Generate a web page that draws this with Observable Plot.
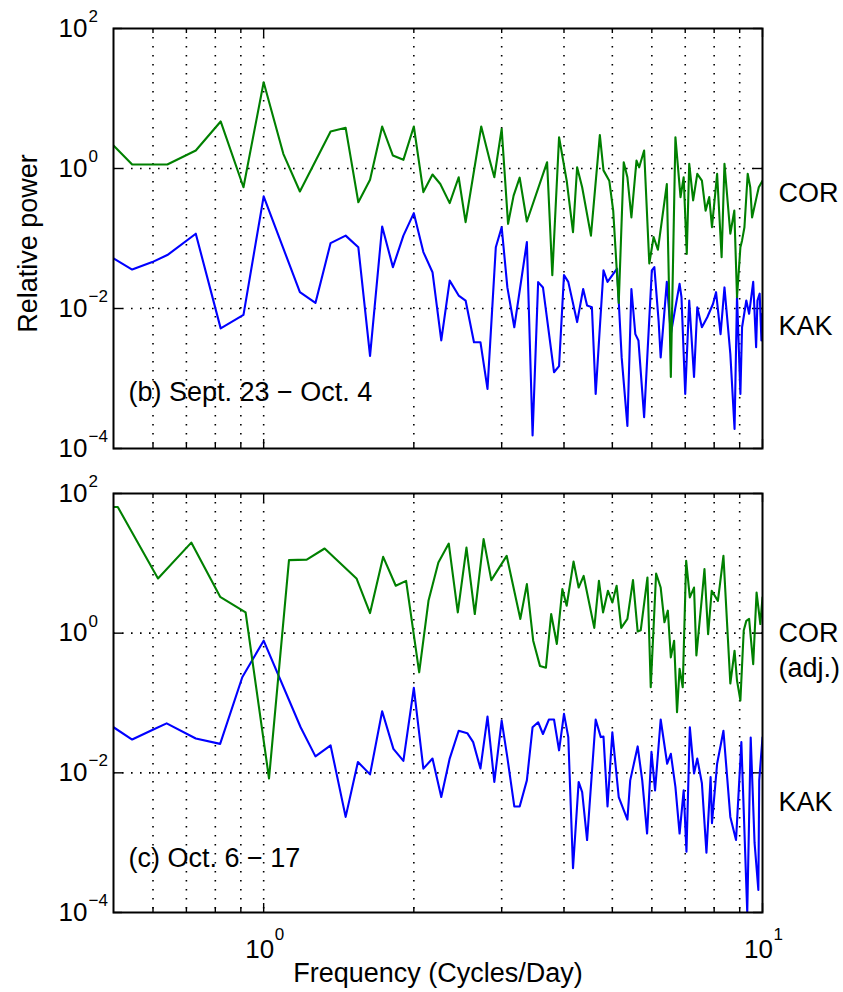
<!DOCTYPE html>
<html>
<head>
<meta charset="utf-8">
<script src="https://cdn.jsdelivr.net/npm/d3@7"></script>
<script src="https://cdn.jsdelivr.net/npm/@observablehq/plot@0.6"></script>
<style>
  html, body { margin: 0; padding: 0; background: #fff; }
  #chart { position: relative; width: 843px; height: 992px; background: #fff; }
  #chart svg { position: absolute; left: 0; overflow: visible; }
</style>
</head>
<body>
<div id="chart"></div>
<script>
// ---------- data (frequency in cycles/day, relative power) ----------
const corB = [[0.50,2.13],[0.545,1.14],[0.641,1.14],[0.731,1.81],[0.820,4.7],[0.911,0.54],[1.0,17.1],[1.095,1.62],[1.182,0.47],[1.362,3.38],[1.46,3.81],[1.548,0.33],[1.634,0.69],[1.728,3.98],[1.816,1.53],[1.906,1.33],[2.0,3.98],[2.09,0.46],[2.18,0.82],[2.26,0.60],[2.36,0.32],[2.46,0.75],[2.54,0.171],[2.73,3.98],[2.84,1.30],[2.90,0.75],[3.0,3.69],[3.09,0.162],[3.17,0.41],[3.26,0.74],[3.37,0.175],[3.70,1.23],[3.79,0.030],[3.91,2.80],[4.05,0.67],[4.17,0.123],[4.25,1.04],[4.35,0.54],[4.53,0.11],[4.72,3.0],[4.80,0.94],[4.93,0.67],[5.02,0.25],[5.15,0.012],[5.27,1.23],[5.36,0.75],[5.46,0.20],[5.59,1.30],[5.66,1.04],[5.79,1.81],[5.93,0.044],[6.05,0.105],[6.17,0.069],[6.43,0.60],[6.55,0.00105],[6.69,2.80],[6.85,0.39],[6.95,0.75],[7.05,0.06],[7.13,1.17],[7.26,0.35],[7.40,0.84],[7.56,0.67],[7.69,0.25],[7.82,0.39],[7.92,0.145],[8.11,0.84],[8.28,0.054],[8.39,1.17],[8.62,0.117],[8.78,0.25],[8.89,0.0145],[9.03,0.075],[9.10,0.094],[9.20,0.145],[9.34,0.84],[9.45,0.54],[9.53,0.20],[9.73,0.39],[9.83,0.54],[10.0,0.67]];

const kakB = [[0.50,0.052],[0.545,0.036],[0.598,0.046],[0.641,0.058],[0.731,0.117],[0.820,0.0052],[0.911,0.0081],[1.0,0.40],[1.182,0.0171],[1.27,0.012],[1.362,0.086],[1.46,0.110],[1.548,0.075],[1.634,0.0021],[1.728,0.148],[1.816,0.039],[1.906,0.11],[2.0,0.23],[2.09,0.064],[2.18,0.033],[2.27,0.0035],[2.36,0.025],[2.46,0.0153],[2.54,0.013],[2.64,0.0033],[2.72,0.0033],[2.81,0.00071],[2.92,0.075],[3.0,0.145],[3.08,0.020],[3.18,0.0054],[3.37,0.089],[3.46,0.000153],[3.55,0.0238],[3.63,0.020],[3.82,0.00123],[3.91,0.0015],[4.0,0.030],[4.08,0.024],[4.25,0.0064],[4.37,0.019],[4.45,0.011],[4.55,0.0104],[4.63,0.0006],[4.72,0.0054],[4.80,0.035],[4.89,0.024],[5.11,0.037],[5.22,0.002],[5.36,0.00021],[5.46,0.019],[5.56,0.0043],[5.64,0.0035],[5.79,0.00028],[6.0,0.035],[6.07,0.039],[6.19,0.0067],[6.25,0.002],[6.43,0.024],[6.55,0.0043],[6.69,0.0104],[6.82,0.0225],[6.88,0.0145],[7.0,0.0006],[7.13,0.013],[7.29,0.00105],[7.40,0.0104],[7.56,0.0054],[7.75,0.0075],[7.96,0.0117],[8.07,0.0171],[8.24,0.0043],[8.39,0.020],[8.62,0.00225],[8.79,0.00019],[8.89,0.0153],[9.03,0.0006],[9.10,0.0054],[9.28,0.013],[9.40,0.0084],[9.58,0.024],[9.71,0.0028],[9.77,0.013],[9.87,0.0163],[9.95,0.0035],[10.0,0.0084]];

const corC = [[0.50,64],[0.51,64],[0.614,6.07],[0.716,19.8],[0.818,3.32],[0.92,1.98],[1.025,0.0083],[1.124,11.1],[1.22,11.3],[1.325,16.3],[1.535,6.07],[1.634,1.94],[1.736,12.4],[1.84,4.77],[1.93,5.6],[2.05,0.275],[2.14,2.91],[2.24,10.3],[2.35,19.2],[2.45,1.98],[2.55,16.8],[2.65,1.88],[2.76,22.2],[2.86,5.75],[3.07,12.8],[3.27,1.6],[3.37,5.04],[3.47,0.78],[3.58,0.34],[3.68,0.32],[3.77,1.88],[3.87,0.70],[3.97,4.28],[4.05,2.47],[4.18,10.6],[4.28,4.5],[4.38,6.6],[4.60,1.19],[4.70,5.6],[4.79,1.98],[4.90,4.05],[5.0,2.75],[5.10,4.77],[5.21,1.19],[5.36,1.6],[5.50,5.75],[5.62,1.06],[5.70,1.1],[5.88,6.27],[5.97,0.168],[6.12,7.15],[6.25,4.5],[6.36,1.43],[6.46,2.1],[6.55,0.45],[6.65,0.78],[6.74,0.074],[6.82,0.31],[6.92,0.168],[7.03,10.9],[7.15,3.25],[7.29,4.5],[7.37,0.48],[7.56,3.25],[7.65,8.3],[7.78,0.97],[7.91,4.05],[8.14,2.9],[8.35,12.8],[8.62,0.19],[8.79,0.56],[8.89,0.21],[9.03,0.109],[9.17,1.09],[9.28,1.5],[9.40,1.6],[9.58,0.36],[9.73,3.83],[9.90,1.35],[10.0,3.25]];

const kakC = [[0.50,0.045],[0.545,0.030],[0.598,0.041],[0.639,0.051],[0.731,0.031],[0.818,0.026],[0.906,0.234],[1.0,0.78],[1.186,0.045],[1.27,0.0172],[1.362,0.0247],[1.46,0.00234],[1.545,0.0143],[1.634,0.0095],[1.728,0.076],[1.82,0.022],[1.906,0.0148],[2.0,0.165],[2.09,0.0115],[2.18,0.016],[2.27,0.0045],[2.36,0.016],[2.46,0.040],[2.56,0.037],[2.63,0.0275],[2.72,0.0115],[2.81,0.064],[2.90,0.0074],[3.0,0.056],[3.08,0.0165],[3.18,0.0033],[3.26,0.0033],[3.37,0.0078],[3.46,0.045],[3.55,0.053],[3.63,0.036],[3.73,0.058],[3.82,0.058],[3.91,0.021],[4.0,0.070],[4.08,0.0325],[4.17,0.00043],[4.28,0.0074],[4.35,0.0053],[4.45,0.00109],[4.63,0.058],[4.74,0.0325],[4.80,0.033],[4.89,0.0033],[5.0,0.038],[5.15,0.0045],[5.36,0.00214],[5.43,0.0078],[5.62,0.0239],[5.74,0.0078],[5.87,0.00135],[5.99,0.020],[6.09,0.0056],[6.25,0.058],[6.44,0.0135],[6.55,0.0187],[6.69,0.0063],[6.82,0.00135],[6.95,0.0056],[7.04,0.00074],[7.15,0.045],[7.29,0.0098],[7.40,0.016],[7.56,0.0071],[7.72,0.00072],[7.87,0.0087],[7.92,0.0019],[8.11,0.0135],[8.35,0.040],[8.62,0.00234],[8.85,0.00109],[9.07,0.0275],[9.32,0.0001],[9.47,0.032],[9.64,0.001],[9.81,0.00021],[9.85,0.0078],[10.0,0.032]];

// ---------- ticks and labels ----------
const xTicksMajor = [1, 10];
const xTickExp = ["0", "1"];
const xTicksMinor = [0.6, 0.7, 0.8, 0.9, 2, 3, 4, 5, 6, 7, 8, 9];
const xGrid = [0.6, 0.7, 0.8, 0.9, 1, 2, 3, 4, 5, 6, 7, 8, 9];
const yTicks = [1e-4, 1e-2, 1, 1e2];
const yTickExp = ["\u22124", "\u22122", "0", "2"];
const yGrid = [1e-2, 1];
const labelsB = ["COR", "KAK"];
const labelsC = ["COR", "(adj.)", "KAK"];
const tagB = "(b) Sept. 23 \u2212 Oct. 4";
const tagC = "(c) Oct. 6 \u2212 17";
const yTitle = "Relative power";
const xTitle = "Frequency (Cycles/Day)";

const FONT = "'Liberation Sans', Arial, Helvetica, sans-serif";
const W = 843, ML = 113, MR = 81;

function panel({cor, kak, height, marginTop, marginBottom, tag, tagDy, labels, labelDys, showX, showYTitle}) {
  const fw = W - ML - MR;
  const fh = height - marginTop - marginBottom;
  const dot = {stroke: "black", strokeWidth: 1.6, strokeDasharray: "1.6,7.4"};
  const tk = {stroke: "black", strokeWidth: 1.4};
  const txt = {lineAnchor: "middle", fill: "black"};
  const marks = [
    Plot.ruleX(xGrid, {x: d => d, ...dot}),
    Plot.ruleY(yGrid, {y: d => d, ...dot}),
    Plot.ruleX(xTicksMajor, {x: d => d, insetTop: fh - 9, ...tk}),
    Plot.ruleX(xTicksMajor, {x: d => d, insetBottom: fh - 9, ...tk}),
    Plot.ruleX(xTicksMinor, {x: d => d, insetTop: fh - 5, ...tk}),
    Plot.ruleX(xTicksMinor, {x: d => d, insetBottom: fh - 5, ...tk}),
    Plot.ruleY(yTicks, {y: d => d, insetRight: fw - 9, ...tk}),
    Plot.ruleY(yTicks, {y: d => d, insetLeft: fw - 9, ...tk}),
    Plot.line(kak, {x: d => d[0], y: d => d[1], stroke: "#0000ff", strokeWidth: 2.1, clip: true}),
    Plot.line(cor, {x: d => d[0], y: d => d[1], stroke: "#008000", strokeWidth: 2.1, clip: true}),
    Plot.frame({stroke: "black", strokeWidth: 2}),
    Plot.text(yTicks, {y: d => d, frameAnchor: "left", text: () => "10", textAnchor: "end", dx: -26, fontSize: 26, ...txt}),
    Plot.text(yTicks, {y: d => d, frameAnchor: "left", text: (d, i) => yTickExp[i], textAnchor: "start", dx: -25, dy: -12, fontSize: 17, ...txt}),
    Plot.text([tag], {text: d => d, frameAnchor: "bottom-left", dx: 15, dy: -tagDy, textAnchor: "start", fontSize: 27, ...txt}),
    ...labels.map((t, i) => Plot.text([t], {text: d => d, frameAnchor: "top-right", dx: 16, dy: labelDys[i], textAnchor: "start", fontSize: 27, ...txt}))
  ];
  if (showYTitle) {
    marks.push(Plot.text([yTitle], {text: d => d, frameAnchor: "left", rotate: -90, dx: -85, dy: 5, textAnchor: "middle", fontSize: 27, ...txt}));
  }
  if (showX) {
    marks.push(
      Plot.text(xTicksMajor, {x: d => d, frameAnchor: "bottom", text: () => "10", textAnchor: "middle", dx: -4, dy: 37, fontSize: 26, ...txt}),
      Plot.text(xTicksMajor, {x: d => d, frameAnchor: "bottom", text: (d, i) => xTickExp[i], textAnchor: "start", dx: 11, dy: 22, fontSize: 17, ...txt}),
      Plot.text([xTitle], {text: d => d, frameAnchor: "bottom", dy: 61, textAnchor: "middle", fontSize: 27, ...txt})
    );
  }
  return Plot.plot({
    width: W, height,
    marginLeft: ML, marginRight: MR, marginTop, marginBottom,
    style: {fontFamily: FONT, background: "white", color: "black"},
    x: {type: "log", domain: [0.5, 10], axis: null},
    y: {type: "log", domain: [1e-4, 1e2], axis: null},
    marks
  });
}

const chartEl = document.getElementById("chart");
const panelB = panel({cor: corB, kak: kakB, height: 470, marginTop: 28, marginBottom: 22,
  tag: tagB, tagDy: 56, labels: labelsB, labelDys: [165, 298], showX: false, showYTitle: true});
panelB.style.top = "0px";
const panelC = panel({cor: corC, kak: kakC, height: 522, marginTop: 23, marginBottom: 80,
  tag: tagC, tagDy: 54, labels: labelsC, labelDys: [140, 175, 309], showX: true, showYTitle: false});
panelC.style.top = "470px";
chartEl.appendChild(panelB);
chartEl.appendChild(panelC);
</script>
</body>
</html>
